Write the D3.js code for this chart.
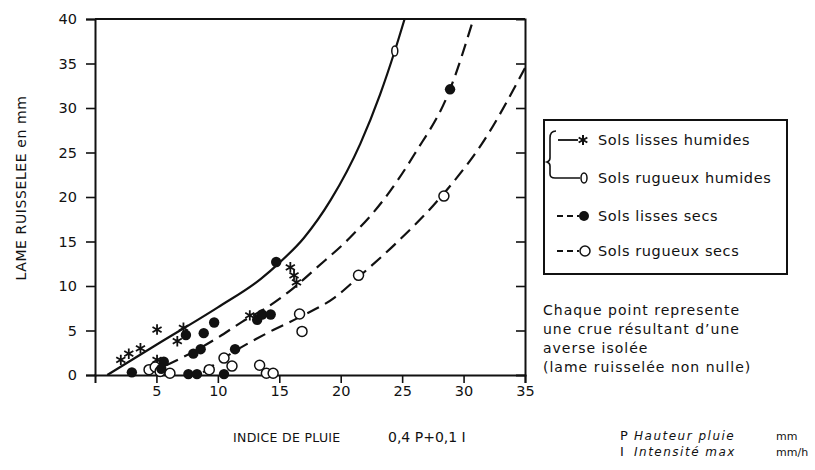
<!DOCTYPE html>
<html>
<head>
<meta charset="utf-8">
<script src="https://cdn.jsdelivr.net/npm/d3@7"></script>
<style>
  body { margin: 0; background: #fff; }
  svg text { font-family: "DejaVu Sans", sans-serif; fill: #111; }
</style>
</head>
<body>
<div id="chart"></div>
<script>
(function(d3) {
  'use strict';

  // ticks
  var xTicks = [5, 10, 15, 20, 25, 30, 35];
  var yTicks = [0, 5, 10, 15, 20, 25, 30, 35, 40];

  // points [indice, lame]
  var lissesHumides = [[2.1, 1.7], [2.75, 2.4], [3.7, 3.0], [5.05, 5.1], [5.05, 1.7],
    [6.7, 3.8], [7.2, 5.3], [12.6, 6.7], [15.9, 12.1], [16.2, 11.2], [16.4, 10.4]];
  var rugueuxHumides = [[24.4, 36.4]];
  var lissesSecs = [[3.0, 0.3], [5.6, 1.5], [5.4, 0.7], [7.4, 4.5], [8.0, 2.4], [8.6, 2.9],
    [8.85, 4.7], [9.7, 5.9], [7.6, 0.1], [8.3, 0.1], [10.5, 0.1], [11.4, 2.9],
    [13.2, 6.2], [13.6, 6.8], [14.3, 6.8], [14.75, 12.7], [28.9, 32.1]];
  var rugueuxSecs = [[4.4, 0.6], [4.9, 0.9], [5.3, 0.4], [6.1, 0.2], [9.3, 0.6], [10.5, 1.9],
    [11.15, 1.0], [13.4, 1.1], [13.95, 0.2], [14.5, 0.2], [16.65, 6.85], [16.85, 4.9],
    [21.45, 11.2], [28.4, 20.1]];

  // fitted curves as drawn on the figure
  var curveHumides = [[1.0, 0], [5, 3.4], [10, 7.6], [13.5, 10.8], [15, 12.6], [17, 15.4],
    [19.2, 19.7], [21.6, 26], [23.2, 31.5], [24.4, 36.4], [25.2, 40]];
  var curveLissesSecs = [[5.8, 1.1], [8, 2.6], [10, 4.2], [12, 6.0], [14, 7.6], [16, 9.6],
    [18, 12.0], [20.8, 15.5], [23.5, 19.7], [26, 24.8], [28.9, 32.1], [30.8, 40]];
  var curveRugueuxSecs = [[8.8, 0.3], [11.4, 2.7], [14, 4.7], [16.65, 6.5], [19.5, 8.7],
    [21.45, 11.0], [24.5, 14.8], [27.5, 19.0], [29, 21.4], [31.5, 26], [35, 34.5]];

  var legendLabels = ['Sols lisses humides', 'Sols rugueux humides', 'Sols lisses secs', 'Sols rugueux secs'];
  var noteLines = ['Chaque point represente', 'une crue résultant d\u2019une', 'averse isolée', '(lame ruisselée non nulle)'];

  var width = 815, height = 470;
  var ink = '#111';

  var svg = d3.select('#chart').append('svg')
    .attr('width', width)
    .attr('height', height);

  var x = d3.scaleLinear().domain([0, 35]).range([95, 525]);
  var y = d3.scaleLinear().domain([0, 40]).range([375, 19]);

  // star marker
  var asterisk = {
    draw: function(ctx, size) {
      var r = Math.sqrt(size) / 2;
      for (var k = 0; k < 3; k++) {
        var a = Math.PI / 2 + k * Math.PI / 3;
        ctx.moveTo(r * Math.cos(a), r * Math.sin(a));
        ctx.lineTo(-r * Math.cos(a), -r * Math.sin(a));
      }
    }
  };

  function styleTicks(g) {
    g.select('.domain').attr('stroke', ink).attr('stroke-width', 2);
    g.selectAll('.tick line').attr('stroke', ink).attr('stroke-width', 1.6);
    g.selectAll('.tick text').attr('font-size', 14.5).attr('font-family', 'Roboto')
      .attr('font-weight', 500).attr('fill', ink);
  }

  // axes
  svg.append('g')
    .attr('transform', 'translate(' + x(0) + ',0)')
    .call(d3.axisLeft(y).tickValues(yTicks).tickSize(9).tickPadding(9))
    .call(styleTicks);

  svg.append('g')
    .attr('transform', 'translate(0,' + y(0) + ')')
    .call(d3.axisBottom(x).tickValues(xTicks).tickSize(8).tickPadding(3))
    .call(styleTicks);

  svg.append('g')
    .attr('transform', 'translate(' + x(35) + ',0)')
    .call(d3.axisLeft(y).tickValues(yTicks.slice(1, -1)).tickSize(9).tickFormat(''))
    .call(styleTicks);

  svg.append('line')
    .attr('x1', x(0)).attr('x2', x(35))
    .attr('y1', y(40)).attr('y2', y(40))
    .attr('stroke', ink).attr('stroke-width', 2);

  // curves
  var line = d3.line()
    .x(function(d) { return x(d[0]); })
    .y(function(d) { return y(d[1]); })
    .curve(d3.curveMonotoneX);

  [[curveHumides, null], [curveLissesSecs, '13,7'], [curveRugueuxSecs, '13,7']].forEach(function(c) {
    svg.append('path')
      .datum(c[0])
      .attr('d', line)
      .attr('fill', 'none')
      .attr('stroke', ink)
      .attr('stroke-width', 2.2)
      .attr('stroke-dasharray', c[1]);
  });

  // points
  var pts = svg.append('g');
  pts.selectAll('.star').data(lissesHumides).enter().append('path')
    .attr('class', 'star')
    .attr('transform', function(d) { return 'translate(' + x(d[0]) + ',' + y(d[1]) + ')'; })
    .attr('d', d3.symbol().type(asterisk).size(110))
    .attr('stroke', ink).attr('stroke-width', 1.8).attr('fill', 'none');

  pts.selectAll('.dia').data(rugueuxHumides).enter().append('ellipse')
    .attr('class', 'dia')
    .attr('cx', function(d) { return x(d[0]); })
    .attr('cy', function(d) { return y(d[1]); })
    .attr('rx', 3).attr('ry', 5)
    .attr('fill', '#fff').attr('stroke', ink).attr('stroke-width', 1.5);

  pts.selectAll('.open').data(rugueuxSecs).enter().append('circle')
    .attr('class', 'open')
    .attr('cx', function(d) { return x(d[0]); })
    .attr('cy', function(d) { return y(d[1]); })
    .attr('r', 5)
    .attr('fill', '#fff').attr('stroke', ink).attr('stroke-width', 1.5);

  pts.selectAll('.full').data(lissesSecs).enter().append('circle')
    .attr('class', 'full')
    .attr('cx', function(d) { return x(d[0]); })
    .attr('cy', function(d) { return y(d[1]); })
    .attr('r', 5.2)
    .attr('fill', ink);

  // axis titles
  svg.append('text')
    .attr('transform', 'translate(26,188) rotate(-90)')
    .attr('text-anchor', 'middle')
    .attr('font-size', 14)
    .attr('font-family', 'Roboto')
    .attr('font-weight', 500)
    .attr('letter-spacing', 0.6)
    .text('LAME RUISSELEE en mm');

  svg.append('text').attr('x', 233).attr('y', 442).attr('font-size', 12.5)
    .attr('font-family', 'Roboto').attr('font-weight', 500).attr('letter-spacing', 0.3)
    .text('INDICE DE PLUIE');
  svg.append('text').attr('x', 388).attr('y', 442).attr('font-size', 14)
    .attr('font-family', 'Liberation Serif').text('0,4 P+0,1 I');

  var defs = [['P', 'Hauteur pluie', 'mm', 440], ['I', 'Intensité max', 'mm/h', 456]];
  defs.forEach(function(r) {
    var t = svg.append('g');
    t.append('text').attr('x', 620).attr('y', r[3]).attr('font-size', 13).attr('font-family', 'Liberation Serif').text(r[0]);
    t.append('text').attr('x', 634).attr('y', r[3]).attr('font-style', 'italic').attr('font-size', 12)
      .attr('font-family', 'Liberation Serif').attr('letter-spacing', 1.5).text(r[1]);
    t.append('text').attr('x', 776).attr('y', r[3]).attr('font-size', 11).attr('font-family', 'Liberation Serif').text(r[2]);
  });

  // legend
  var lg = svg.append('g');
  lg.append('rect')
    .attr('x', 544).attr('y', 120).attr('width', 243).attr('height', 154)
    .attr('fill', 'none').attr('stroke', ink).attr('stroke-width', 2);

  var rowY = [140, 178, 216, 251];
  lg.selectAll('.lt').data(legendLabels).enter().append('text')
    .attr('class', 'lt')
    .attr('x', 598)
    .attr('y', function(d, i) { return rowY[i] + 5; })
    .attr('font-size', 14.5)
    .attr('letter-spacing', 0.6)
    .text(function(d) { return d; });

  // brace joining the two "humides" rows
  lg.append('path')
    .attr('d', 'M556,131 Q550,131 550,138 L550,158 Q550,161 547,162 Q550,163 550,166 L550,174 Q550,178 555,178 L580,178')
    .attr('fill', 'none').attr('stroke', ink).attr('stroke-width', 1.6);
  lg.append('line').attr('x1', 558).attr('x2', 578).attr('y1', rowY[0]).attr('y2', rowY[0])
    .attr('stroke', ink).attr('stroke-width', 1.8);
  lg.append('path')
    .attr('transform', 'translate(583,' + rowY[0] + ')')
    .attr('d', d3.symbol().type(asterisk).size(100))
    .attr('stroke', ink).attr('stroke-width', 2).attr('fill', 'none');
  lg.append('ellipse').attr('cx', 584).attr('cy', rowY[1]).attr('rx', 3).attr('ry', 5)
    .attr('fill', '#fff').attr('stroke', ink).attr('stroke-width', 1.5);

  [2, 3].forEach(function(i) {
    lg.append('line').attr('x1', 557).attr('x2', 579).attr('y1', rowY[i]).attr('y2', rowY[i])
      .attr('stroke', ink).attr('stroke-width', 1.8).attr('stroke-dasharray', '6,4');
  });
  lg.append('circle').attr('cx', 584).attr('cy', rowY[2]).attr('r', 5).attr('fill', ink);
  lg.append('circle').attr('cx', 585).attr('cy', rowY[3]).attr('r', 5)
    .attr('fill', '#fff').attr('stroke', ink).attr('stroke-width', 1.5);

  // note
  svg.append('g').selectAll('text').data(noteLines).enter().append('text')
    .attr('x', 543)
    .attr('y', function(d, i) { return 315 + i * 19; })
    .attr('font-size', 14)
    .attr('letter-spacing', 1)
    .text(function(d) { return d; });

})(window.d3);
</script>
</body>
</html>
